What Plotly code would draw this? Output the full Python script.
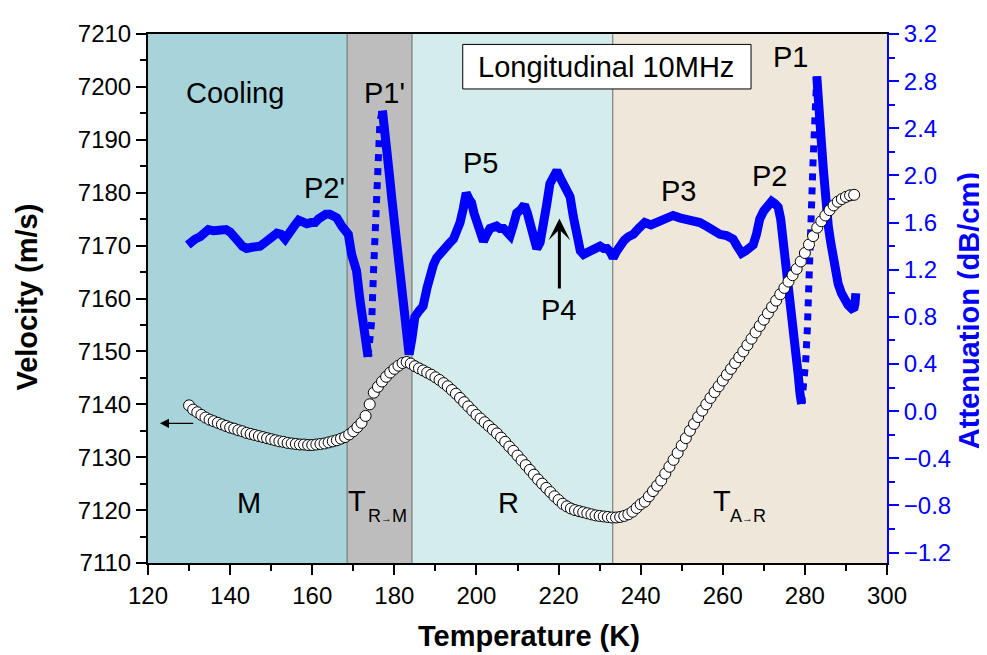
import plotly.graph_objects as go
import numpy as np

# ---------------- data ----------------
vel_T = list(range(130, 293))
vel_V = [
    7139.8, 7139.0, 7138.5, 7138.0, 7137.5, 7137.1, 7136.8, 7136.5, 7136.2, 7135.9,
    7135.6, 7135.4, 7135.1, 7134.9, 7134.6, 7134.4, 7134.2, 7134.0, 7133.8, 7133.6,
    7133.4, 7133.2, 7133.0, 7132.9, 7132.7, 7132.6, 7132.5, 7132.4, 7132.4, 7132.3,
    7132.3, 7132.4, 7132.5, 7132.6, 7132.8, 7133.0, 7133.2, 7133.5, 7133.8, 7134.3,
    7134.9, 7135.7, 7136.5, 7137.8, 7140.0, 7142.2, 7143.3, 7144.3, 7145.2, 7146.0,
    7146.7, 7147.3, 7147.8, 7148.0, 7147.7, 7147.2, 7146.8, 7146.4, 7146.0, 7145.6,
    7145.1, 7144.6, 7144.0, 7143.4, 7142.7, 7142.0, 7141.2, 7140.4, 7139.6, 7138.8,
    7138.0, 7137.3, 7136.6, 7135.9, 7135.2, 7134.5, 7133.7, 7132.9, 7132.0, 7131.2,
    7130.3, 7129.4, 7128.5, 7127.6, 7126.7, 7125.8, 7125.0, 7124.2, 7123.4, 7122.6,
    7121.9, 7121.2, 7120.7, 7120.3, 7120.0, 7119.8, 7119.6, 7119.4, 7119.2, 7119.0,
    7118.9, 7118.8, 7118.7, 7118.6, 7118.6, 7118.7, 7118.9, 7119.2, 7119.7, 7120.4,
    7121.1, 7121.6, 7122.6, 7123.6, 7124.6, 7125.6, 7126.9, 7128.2, 7129.5, 7130.8,
    7132.2, 7133.6, 7135.0, 7136.3, 7137.6, 7138.8, 7140.0, 7141.2, 7142.3, 7143.4,
    7144.5, 7145.6, 7146.7, 7147.8, 7148.9, 7150.0, 7151.2, 7152.4, 7153.6, 7154.8,
    7156.0, 7157.2, 7158.4, 7159.6, 7160.8, 7162.0, 7163.2, 7164.4, 7165.6, 7167.0,
    7168.6, 7170.2, 7171.8, 7173.4, 7174.6, 7175.7, 7176.7, 7177.6, 7178.3, 7178.8,
    7179.2, 7179.5, 7179.6,
]

att_T = [
    129.7, 130.5, 131.5, 132.7, 133.7, 134.7, 136.0, 137.5, 139.0, 140.0,
    141.0, 142.0, 143.0, 144.0, 145.3, 146.5, 147.3, 148.1, 149.0, 149.8,
    150.6, 151.4, 152.4, 153.4, 154.0, 154.6, 155.6, 156.7, 157.7, 158.7,
    159.7, 160.7, 161.5, 162.3, 163.3, 164.3, 165.2, 166.0, 167.2, 168.0,
    168.8, 169.6, 170.2, 170.8, 171.6, 172.4, 173.0, 173.6,
    174.0, 174.5, 174.9, 175.3, 175.7, 176.1, 176.5, 177.1,
    177.8, 178.6, 179.4, 180.2, 181.0, 181.8, 182.6, 183.6, 184.3, 185.0,
    186.0, 187.0, 188.0, 188.7, 189.5, 190.3, 191.3, 192.3, 193.3, 194.4,
    195.2, 196.0, 196.8, 197.5, 198.2, 198.8, 199.4, 200.0, 200.8, 201.7,
    202.5, 203.3, 204.1, 204.9, 205.7, 206.6, 207.4, 208.2, 209.0, 209.8,
    210.8, 211.7, 212.4, 213.1, 213.9, 214.7, 215.5, 216.3, 217.1, 217.9,
    218.8, 219.6, 220.4, 221.2, 222.0, 222.8, 223.6, 224.5, 225.3, 226.1,
    227.0, 228.0, 229.3, 230.1, 231.0, 231.8, 232.6, 233.3, 234.2, 235.0,
    236.0, 237.0, 238.2, 239.5, 241.0, 242.5, 243.9, 245.5, 247.0, 247.9,
    249.5, 251.2, 252.8, 254.4, 256.0, 257.7, 259.3, 260.9, 262.5, 263.5,
    264.6, 265.6, 266.5, 267.4, 268.2, 269.0, 270.0, 270.7, 271.3, 271.9,
    272.7, 273.5, 274.1, 274.7, 275.4, 276.0, 276.6, 277.2, 277.8, 278.4,
    278.8, 279.2,
    279.7, 280.2, 280.6, 281.0, 281.3, 281.6, 282.0, 282.4, 282.9,
    283.3, 283.7, 284.1, 284.5, 284.9, 285.7, 286.3, 286.9, 287.5, 288.1,
    288.9, 289.7, 290.5, 291.4, 292.0, 292.2, 292.4,
]
att_A = [
    1.41, 1.44, 1.46, 1.48, 1.51, 1.54, 1.53, 1.53, 1.54, 1.52,
    1.49, 1.44, 1.40, 1.38, 1.39, 1.39, 1.40, 1.42, 1.45, 1.48,
    1.50, 1.51, 1.50, 1.46, 1.49, 1.53, 1.57, 1.62, 1.60, 1.59,
    1.60, 1.60, 1.63, 1.66, 1.67, 1.67, 1.66, 1.64, 1.57, 1.53,
    1.50, 1.33, 1.24, 1.19, 0.95, 0.72, 0.58, 0.46,
    0.62, 0.77, 1.16, 1.60, 1.93, 2.24, 2.46, 2.55,
    2.37, 2.07, 1.80, 1.55, 1.27, 0.99, 0.72, 0.48, 0.62, 0.80,
    0.85, 0.89, 1.05, 1.16, 1.24, 1.30, 1.35, 1.38, 1.42, 1.46,
    1.52, 1.60, 1.72, 1.85, 1.80, 1.77, 1.68, 1.60, 1.50, 1.44,
    1.50, 1.55, 1.56, 1.57, 1.55, 1.55, 1.52, 1.49, 1.58, 1.68,
    1.71, 1.75, 1.68, 1.60, 1.48, 1.38, 1.43, 1.55, 1.75, 1.93,
    1.99, 2.04, 1.98, 1.93, 1.90, 1.82, 1.65, 1.49, 1.36, 1.33,
    1.35, 1.37, 1.39, 1.40, 1.38, 1.38, 1.35, 1.30, 1.36, 1.42,
    1.45, 1.48, 1.50, 1.55, 1.60, 1.58, 1.60, 1.63, 1.65, 1.66,
    1.64, 1.63, 1.61, 1.60, 1.57, 1.53, 1.50, 1.49, 1.46, 1.40,
    1.34, 1.36, 1.38, 1.41, 1.50, 1.63, 1.70, 1.74, 1.77, 1.78,
    1.76, 1.73, 1.63, 1.46, 1.30, 1.13, 0.94, 0.75, 0.52, 0.30,
    0.15, 0.06,
    0.22, 0.42, 0.70, 1.00, 1.35, 1.72, 2.13, 2.52, 2.84,
    2.70, 2.54, 2.24, 2.05, 1.85, 1.57, 1.43, 1.30, 1.18, 1.08,
    1.00, 0.94, 0.90, 0.87, 0.88, 0.91, 1.00,
]

# temperature ranges of the phase regions (K)
region_edges = [120, 168.5, 184.3, 233.2, 300]
region_colors = ["#a7d4da", "#bdbdbd", "#d4ecec", "#efe8da"]
# attenuation segments where the measured points are sparse (drawn dotted)
sparse_ranges = [(173.6, 177.1), (279.2, 282.9)]

FONT = "Liberation Sans, Arial, sans-serif"
BLUE = "#0000ff"
TICK_SIZE = 24
LABEL_SIZE = 29

fig = go.Figure()

# attenuation (right axis -> 'y')
T = np.array(att_T)
A = np.array(att_A)
bounds = [129.0]
for a, b in sparse_ranges:
    bounds += [a, b]
bounds.append(293.0)
for i in range(len(bounds) - 1):
    lo, hi = bounds[i], bounds[i + 1]
    m = (T >= lo) & (T <= hi)
    sparse = (i % 2 == 1)
    fig.add_trace(go.Scatter(
        x=T[m], y=A[m], mode="lines", yaxis="y", xaxis="x",
        line=dict(color=BLUE, width=7 if sparse else 9, dash="dot" if sparse else "solid"),
        showlegend=False, hoverinfo="skip"))

# velocity (left axis -> 'y2', drawn above)
fig.add_trace(go.Scatter(
    x=vel_T, y=vel_V, mode="markers", yaxis="y2", xaxis="x",
    marker=dict(symbol="circle", size=11, color="white",
                line=dict(color="black", width=1)),
    showlegend=False))

shapes = []
for i in range(4):
    shapes.append(dict(type="rect", xref="x", yref="paper",
                       x0=region_edges[i], x1=region_edges[i + 1], y0=0, y1=1,
                       fillcolor=region_colors[i], line=dict(width=0), layer="below"))
for e in region_edges[1:-1]:
    shapes.append(dict(type="line", xref="x", yref="paper", x0=e, x1=e, y0=0, y1=1,
                       line=dict(color="#6a6a6a", width=1), layer="below"))
# title box
shapes.append(dict(type="rect", xref="paper", yref="paper",
                   x0=0.4259, x1=0.816, y0=0.8961, y1=0.9803,
                   fillcolor="white", line=dict(color="black", width=1), layer="above"))

ann = []
def label(text, x, y, size=LABEL_SIZE, **kw):
    d = dict(text=text, x=x, y=y, xref="x", yref="y2", showarrow=False,
             xanchor="center", yanchor="middle",
             font=dict(family=FONT, size=size, color="black"))
    d.update(kw)
    ann.append(d)

label("Cooling", 141.2, 7198.9)
label("P2'", 162.9, 7180.8)
label("P1'", 177.7, 7198.9)
label("P5", 200.9, 7185.6)
label("P4", 220.1, 7157.8)
label("P3", 249.1, 7180.3)
label("P2", 271.5, 7183.1)
label("P1", 276.6, 7205.6)
label("M", 144.6, 7121.3)
label("R", 207.9, 7121.3)
# transition labels: T with a small subscript
label("T", 170.8, 7121.8)
label("R<span style='font-size:11px'>→</span>M", 178.4, 7118.8, size=18)
label("T", 259.7, 7121.8)
label("A<span style='font-size:11px'>→</span>R", 266.1, 7118.8, size=18)

ann.append(dict(text="Longitudinal 10MHz", x=0.6204, y=0.9373, xref="paper", yref="paper",
                showarrow=False, xanchor="center", yanchor="middle",
                font=dict(family=FONT, size=LABEL_SIZE, color="black")))
# arrows
ann.append(dict(text="", x=220.2, y=7175.1, ax=220.2, ay=7161.6, xref="x", yref="y2",
                axref="x", ayref="y2", showarrow=True, arrowhead=3, arrowwidth=3,
                arrowsize=1.2, arrowcolor="black"))
ann.append(dict(text="", x=122.9, y=7136.4, ax=131.4, ay=7136.4, xref="x", yref="y2",
                axref="x", ayref="y2", showarrow=True, arrowhead=2, arrowwidth=1.3,
                arrowsize=1.4, arrowcolor="black"))
# axis titles
ann.append(dict(text="<b>Temperature (K)</b>", x=0.5156, y=-0.1384, xref="paper", yref="paper",
                showarrow=False, xanchor="center", yanchor="middle",
                font=dict(family=FONT, size=LABEL_SIZE, color="black")))
ann.append(dict(text="<b>Velocity (m/s)</b>", x=-0.1637, y=0.5018, xref="paper", yref="paper",
                showarrow=False, textangle=-90, xanchor="center", yanchor="middle",
                font=dict(family=FONT, size=LABEL_SIZE, color="black")))
ann.append(dict(text="<b>Attenuation (dB/cm)</b>", x=1.1110, y=0.476, xref="paper", yref="paper",
                showarrow=False, textangle=-90, xanchor="center", yanchor="middle",
                font=dict(family=FONT, size=LABEL_SIZE, color=BLUE)))

fig.update_layout(
    width=987, height=655,
    margin=dict(l=140, r=108, t=13, b=100),
    paper_bgcolor="white", plot_bgcolor="rgba(0,0,0,0)",
    font=dict(family=FONT, size=TICK_SIZE, color="black"),
    shapes=shapes, annotations=ann,
    xaxis=dict(range=[120, 300], dtick=20, tick0=120, ticks="outside", ticklen=10,
               tickwidth=2, tickcolor="black", showline=True, linecolor="black",
               linewidth=2, mirror=True, showgrid=False, zeroline=False,
               tickfont=dict(size=TICK_SIZE, color="black"), ticklabeloverflow="allow",
               minor=dict(ticks="outside", dtick=10, tick0=120, ticklen=6,
                          tickwidth=2, tickcolor="black"),
               anchor="y"),
    yaxis=dict(range=[-1.289, 3.2], side="right", dtick=0.4, tick0=-1.2,
               tickformat=".1f", ticks="outside", ticklen=10, tickwidth=2,
               tickcolor=BLUE, showline=True, linecolor=BLUE, linewidth=2,
               showgrid=False, zeroline=False, ticklabeloverflow="allow",
               tickfont=dict(size=TICK_SIZE, color=BLUE),
               minor=dict(ticks="outside", dtick=0.2, tick0=-1.2, ticklen=6,
                          tickwidth=2, tickcolor=BLUE)),
    yaxis2=dict(range=[7110, 7210], side="left", overlaying="y", dtick=10, tick0=7110,
                ticks="outside", ticklen=10, tickwidth=2, tickcolor="black",
                showline=True, linecolor="black", linewidth=2, showgrid=False,
                zeroline=False, tickfont=dict(size=TICK_SIZE, color="black"),
                ticklabeloverflow="allow",
                minor=dict(ticks="outside", dtick=5, tick0=7110, ticklen=6,
                           tickwidth=2, tickcolor="black")),
)

fig.write_html("out.html")
